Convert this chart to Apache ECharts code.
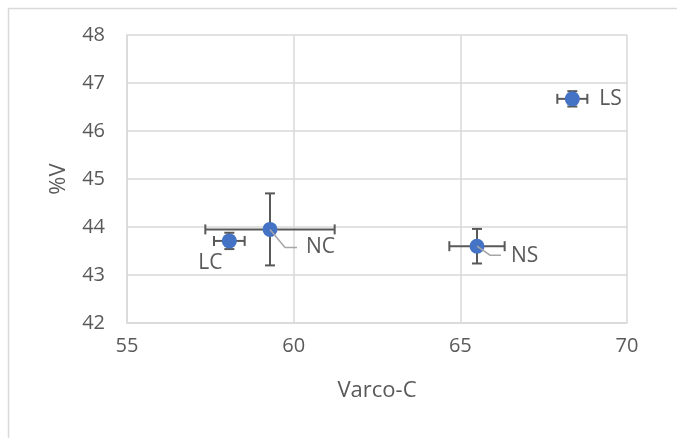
<!DOCTYPE html>
<html>
<head>
<meta charset="utf-8">
<script src="https://cdn.jsdelivr.net/npm/echarts@6/dist/echarts.min.js"></script>
<style>
html,body{margin:0;padding:0;background:#fff;}
#chart{width:677px;height:438px;}
</style>
</head>
<body>
<div id="chart"></div>
<script>
const names = ['LC', 'NC', 'NS', 'LS'];
const xVals = [58.07, 59.29, 65.50, 68.36];
const yVals = [43.71, 43.95, 43.60, 46.67];
const xErr = [0.46, 1.94, 0.83, 0.45];
const yErr = [0.17, 0.75, 0.36, 0.16];
const xTicks = [55, 60, 65, 70];
const yTicks = [42, 43, 44, 45, 46, 47, 48];

// label placement (pixel offsets from point centre) - styling only
const labelStyle = {
  LC: { dx: -19, dy: 22, align: 'center', leader: null },
  NC: { dx: 36, dy: 18, align: 'left', leader: [[0, 0], [15, 18], [27, 18]] },
  NS: { dx: 34, dy: 10, align: 'left', leader: [[0, 0], [13, 9], [24, 9]] },
  LS: { dx: 27, dy: 0, align: 'left', leader: null }
};

const FONT = '"Open Sans", sans-serif';
const TXT = '#595959';
const GRID = '#d9d9d9';

const errData = names.map((n, i) => [xVals[i], yVals[i], xErr[i], yErr[i]]);
const ptData = names.map((n, i) => ({ name: n, value: [xVals[i], yVals[i]] }));

const chart = echarts.init(document.getElementById('chart'));
chart.setOption({
  animation: false,
  backgroundColor: '#fff',
  graphic: [{
    type: 'rect', left: 6, top: 6, silent: true, z: -10,
    shape: { width: 700, height: 500 },
    style: { fill: 'none', stroke: GRID, lineWidth: 1.5 }
  }],
  grid: { left: 127, right: 50, top: 35, bottom: 115 },
  xAxis: {
    type: 'value', min: xTicks[0], max: xTicks[xTicks.length - 1], interval: 5,
    name: 'Varco-C', nameLocation: 'middle', nameGap: 57,
    nameTextStyle: { color: TXT, fontSize: 22, fontFamily: FONT },
    axisLine: { show: true, lineStyle: { color: GRID, width: 1.5 } },
    axisTick: { show: false },
    axisLabel: { color: TXT, fontSize: 20, fontFamily: FONT, margin: 13 },
    splitLine: { show: true, lineStyle: { color: GRID, width: 1.5 } }
  },
  yAxis: {
    type: 'value', min: yTicks[0], max: yTicks[yTicks.length - 1], interval: 1,
    name: '%V', nameLocation: 'middle', nameGap: 57, nameRotate: 90,
    nameTextStyle: { color: TXT, fontSize: 22, fontFamily: FONT },
    axisLine: { show: true, lineStyle: { color: GRID, width: 1.5 } },
    axisTick: { show: false },
    axisLabel: { color: TXT, fontSize: 20, fontFamily: FONT, margin: 22 },
    splitLine: { show: true, lineStyle: { color: GRID, width: 1.5 } }
  },
  series: [
    {
      type: 'custom', z: 2, silent: true,
      data: errData,
      renderItem: function (params, api) {
        const x = api.value(0), y = api.value(1), ex = api.value(2), ey = api.value(3);
        const l = api.coord([x - ex, y]), r = api.coord([x + ex, y]);
        const b = api.coord([x, y - ey]), t = api.coord([x, y + ey]);
        const c = 5;
        const st = { stroke: '#595959', lineWidth: 2 };
        const ln = (x1, y1, x2, y2) => ({ type: 'line', shape: { x1, y1, x2, y2 }, style: st });
        return {
          type: 'group',
          children: [
            ln(l[0], l[1], r[0], r[1]),
            ln(l[0], l[1] - c, l[0], l[1] + c),
            ln(r[0], r[1] - c, r[0], r[1] + c),
            ln(b[0], b[1], t[0], t[1]),
            ln(b[0] - c, b[1], b[0] + c, b[1]),
            ln(t[0] - c, t[1], t[0] + c, t[1])
          ]
        };
      }
    },
    {
      type: 'scatter', z: 3,
      symbol: 'circle', symbolSize: 15,
      itemStyle: { color: '#4472c4', opacity: 1 },
      data: ptData
    },
    {
      type: 'custom', z: 4, silent: true,
      data: errData,
      renderItem: function (params, api) {
        const n = names[params.dataIndex];
        const s = labelStyle[n];
        const p = api.coord([api.value(0), api.value(1)]);
        const children = [];
        if (s.leader) {
          children.push({
            type: 'polyline',
            shape: { points: s.leader.map(q => [p[0] + q[0], p[1] + q[1]]) },
            style: { stroke: '#a6a6a6', lineWidth: 1.5, fill: 'none' }
          });
        }
        children.push({
          type: 'text',
          style: {
            x: p[0] + s.dx, y: p[1] + s.dy, text: n,
            fill: TXT, font: '21px ' + FONT,
            textAlign: s.align, textVerticalAlign: 'middle'
          }
        });
        return { type: 'group', children };
      }
    }
  ]
});
</script>
</body>
</html>
